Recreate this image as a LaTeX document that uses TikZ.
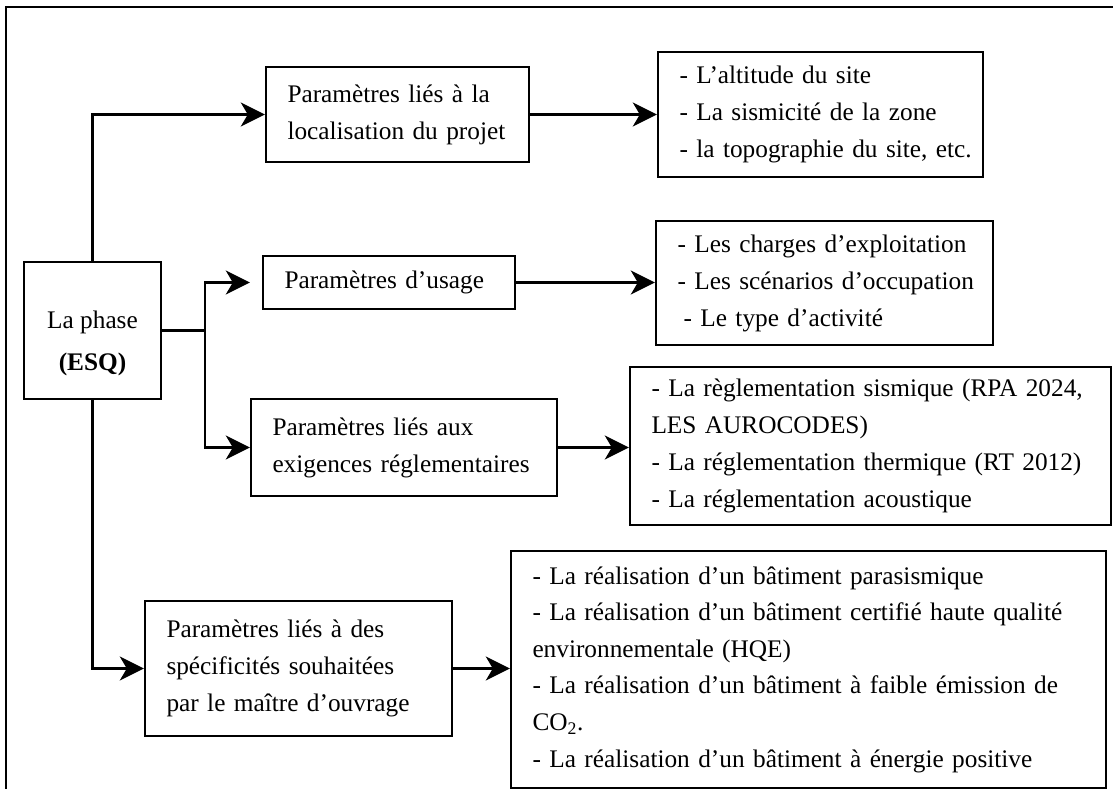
\documentclass[tikz,border=0pt]{standalone}
\usepackage{fontspec}
\setmainfont{Liberation Serif}
\usetikzlibrary{arrows.meta}
% a line whose interword spaces are stretched to the full text width
\newcommand{\jline}[1]{\makebox[\linewidth][s]{#1}}
% a line that is never broken
\newcommand{\nline}[1]{\mbox{#1}}

\begin{document}
\begin{tikzpicture}[x=1pt,y=-1pt,
  txt/.style={font=\fontsize{25.3}{37}\selectfont},
  box/.style={txt, draw, line width=2.4pt, inner xsep=21.5pt, inner ysep=0pt,
    align=left, anchor=center},
  wire/.style={line width=2.4pt},
  link/.style={wire, -{Stealth[length=24pt,width=24pt,inset=7pt]}}
]
\useasboundingbox (0,0) rectangle (1113,789);

% outer frame (open at the bottom and on the right)
\draw[line width=1.8pt] (6,800) -- (6,7) -- (1125,7);

% central phase box
\node[box, minimum width=137pt, minimum height=137pt] (esq) at (92.5,330.5) {};
\node[txt, align=center] (esqlabel) at (92.5,343) {La phase\\[5pt]\textbf{(ESQ)}};

% parameter families
\node[box, text width=220pt, minimum height=95pt] (loc) at (397.5,114.5)
  {\jline{Paramètres liés à la}\\\nline{localisation du projet}};
\node[box, text width=209pt, minimum height=53pt] (usage) at (389,282.5)
  {\nline{Paramètres d’usage}};
\node[box, text width=263pt, minimum height=97pt] (regl) at (404,447.5)
  {\jline{Paramètres liés aux}\\\nline{exigences réglementaires}};
\node[box, text width=264pt, minimum height=135pt] (spec) at (298.5,668.5)
  {\jline{Paramètres liés à des}\\\jline{spécificités souhaitées}\\\nline{par le maître d’ouvrage}};

% detailed lists
\node[box, text width=282pt, minimum height=125pt] (loclist) at (820.5,114.5)
  {\nline{- L’altitude du site}\\\nline{- La sismicité de la zone}\\\nline{- la topographie du site, etc.}};
\node[box, text width=294pt, minimum height=124pt] (usagelist) at (824.5,283)
  {\nline{- Les charges d’exploitation}\\\nline{- Les scénarios d’occupation}\\\nline{\hspace*{6pt}- Le type d’activité}};
\node[box, text width=438pt, minimum height=158pt] (regllist) at (870.5,446)
  {\jline{- La règlementation sismique (RPA 2024,}\\\nline{LES AUROCODES)}\\\nline{- La réglementation thermique (RT 2012)}\\\nline{- La réglementation acoustique}};
\node[box, text width=552pt, minimum height=237pt, font=\fontsize{25.3}{36.6}\selectfont] (speclist) at (808.5,669.5)
  {\nline{- La réalisation d’un bâtiment parasismique}\\
   \jline{- La réalisation d’un bâtiment certifié haute qualité}\\
   \nline{environnementale (HQE)}\\
   \jline{- La réalisation d’un bâtiment à faible émission de}\\
   \nline{CO\textsubscript{2}.}\\
   \nline{- La réalisation d’un bâtiment à énergie positive}};

% connectors from the phase box
\coordinate (split) at (205,330.5);
\draw[link] (esq.north) |- (loc.west);
\draw[wire] (esq.east) -- (split);
\draw[link, shorten >=12pt] (split) |- (usage.west);
\draw[link] (split) |- (regl.west);
\draw[link] (esq.south) |- (spec.west);

% connectors to the lists
\draw[link] (loc.east) -- (loclist.west);
\draw[link] (usage.east) -- (usage.east -| usagelist.west);
\draw[link] (regl.east) -- (regl.east -| regllist.west);
\draw[link] (spec.east) -- (spec.east -| speclist.west);
\end{tikzpicture}
\end{document}
